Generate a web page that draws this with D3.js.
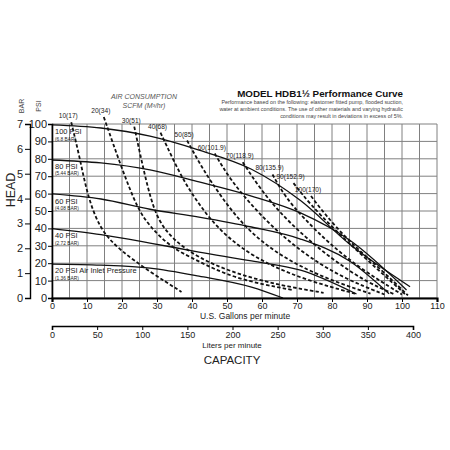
<!DOCTYPE html>
<html><head><meta charset="utf-8">
<script src="https://cdn.jsdelivr.net/npm/d3@7/dist/d3.min.js"></script>
<style>body{margin:0;background:#fff}svg{display:block;font-family:"Liberation Sans",Arial,sans-serif}</style>
</head><body><svg id="c" width="450" height="450"></svg>
<script>
// ---- data ----
const gpmTicks = [0,10,20,30,40,50,60,70,80,90,100,110];
const psiTicks = [0,10,20,30,40,50,60,70,80,90,100];
const barTicks = [0,1,2,3,4,5,6,7];
const lpmTicks = [0,50,100,150,200,250,300,350,400];
const headLabels = ["100 PSI","80 PSI","60 PSI","40 PSI","20 PSI Air Inlet Pressure"];
const headBarLabels = ["(6.8 BAR)","(5.44 BAR)","(4.08 BAR)","(2.72 BAR)","(1.36 BAR)"];
const headPsi = [100,80,60,40,20];
const head100 = [[0,99.5],[14,97.7],[28,93],[42,85],[57,74],[71,56],[85,31],[102.3,6.5]];
const head80  = [[0,79.3],[14,77.6],[28,73.6],[42,66.7],[57,58.6],[71,48.9],[85,33.3],[101.3,4.6]];
const head60  = [[0,59.8],[14,56.9],[28,51],[42,46.5],[57,40.8],[71,33.9],[85,21.3],[96.3,2.5]];
const head40  = [[0,39.9],[14,36.4],[28,31.6],[42,26.4],[57,21.3],[71,16],[87,2.3]];
const head20  = [[0,19.5],[14,18.9],[28,17.2],[42,12.6],[57,6.3],[66,0]];
const airLabels = ["10(17)","20(34)","30(51)","40(68)","50(85)","60(101.9)","70(118.9)","80(135.9)","90(152.9)","100(170)"];
const air10  = [[5.5,101],[8,80],[10,60],[13.5,40],[19,28],[28,15],[37,3.5]];
const air20  = [[14.8,104],[20,74],[24.5,51],[28,41],[34,29],[41,22],[52,11],[69,4.5]];
const air30  = [[23.5,98.5],[25.7,77.6],[28.9,50.6],[32.5,38],[38,28],[46,19],[56,12],[66,7],[77.6,3]];
const air40  = [[31,95],[34.5,80],[38,66],[42.3,53],[47,41],[53.7,29],[62,19],[73,10],[86.6,2.5]];
const air50  = [[38.6,90.5],[42,78],[45.1,67.8],[50.9,51],[56.6,38],[64,26],[73,16],[82,8.5],[91,2.5]];
const air60  = [[46.5,83],[50.9,68],[58,51],[65,37],[73.7,23],[83.7,11],[95,2]];
const air70  = [[54.5,78],[59.4,63],[65.1,49],[72.3,35],[80.9,21],[90,9],[98,2]];
const air80  = [[63,71],[66.6,58],[72.3,45],[79.4,31],[88,17],[100,2]];
const air90  = [[69,66],[73.7,54],[80.9,39],[89.4,23],[101,2]];
const air100 = [[74,58.6],[78,48],[85.1,32],[93.7,17],[101.7,1.5]];

const heads = [head100,head80,head60,head40,head20];
const airs = [air10,air20,air30,air40,air50,air60,air70,air80,air90,air100];

// ---- scales ----
const svg = d3.select("#c");
const x = d3.scaleLinear().domain([0,110]).range([52,437]);
const y = d3.scaleLinear().domain([0,100]).range([298,124]);
const yBar = d3.scaleLinear().domain([0,7]).range([298,124]);
const xL = d3.scaleLinear().domain([0,400]).range([52,413]);

// grid
const g = svg.append("g");
g.selectAll("line.v").data(d3.range(0,111,5)).enter().append("line")
  .attr("x1",d=>x(d)).attr("x2",d=>x(d)).attr("y1",y(0)).attr("y2",y(100))
  .attr("stroke","#808080").attr("stroke-width",1);
g.selectAll("line.h").data(psiTicks).enter().append("line")
  .attr("x1",x(0)).attr("x2",x(110)).attr("y1",d=>y(d)).attr("y2",d=>y(d))
  .attr("stroke","#808080").attr("stroke-width",1);

// head curves
const line = d3.line().x(d=>x(d[0])).y(d=>y(d[1])).curve(d3.curveMonotoneX);
svg.selectAll("path.head").data(heads).enter().append("path")
  .attr("d",line).attr("fill","none").attr("stroke","#111").attr("stroke-width",1.3);

// air curves
const lineA = d3.line().x(d=>x(d[0])).y(d=>y(d[1])).curve(d3.curveBasis);
svg.selectAll("path.air").data(airs).enter().append("path")
  .attr("d",lineA).attr("fill","none").attr("stroke","#111").attr("stroke-width",1.8)
  .attr("stroke-dasharray","3.5,2.2");

// air labels
svg.selectAll("text.al").data(airs).enter().append("text")
  .attr("x",d=>x(d[0][0])-3).attr("y",d=>y(d[0][1])-4)
  .attr("text-anchor","middle").attr("font-size",6.6).attr("fill","#222")
  .text((d,i)=>airLabels[i]);

// head labels
svg.selectAll("text.hl").data(headLabels).enter().append("text")
  .attr("x",x(0)+3).attr("y",(d,i)=>y(headPsi[i])+10).attr("font-size",7.5).attr("fill","#222")
  .text(d=>d);
svg.selectAll("text.hb").data(headBarLabels).enter().append("text")
  .attr("x",x(0)+3).attr("y",(d,i)=>y(headPsi[i])+16.5).attr("font-size",4.8).attr("fill","#222")
  .text(d=>d);

// axes
const ax = svg.append("g").attr("transform",`translate(0,${y(0)})`)
  .call(d3.axisBottom(x).tickValues(gpmTicks).tickSize(4).tickPadding(1));
ax.select(".domain").attr("stroke-width",2.2);
ax.selectAll("text").attr("font-size",9).attr("font-family","Liberation Sans, Arial").attr("fill","#222");

const ay = svg.append("g").attr("transform",`translate(${x(0)},0)`)
  .call(d3.axisLeft(y).tickValues(psiTicks).tickSize(4).tickPadding(1));
ay.select(".domain").attr("stroke-width",1.6);
ay.selectAll("text").attr("font-size",11).attr("font-family","Liberation Sans, Arial").attr("fill","#222");

const ab = svg.append("g").attr("transform","translate(30,0)")
  .call(d3.axisLeft(yBar).tickValues(barTicks).tickFormat(d3.format("d")).tickSize(5).tickPadding(2));
ab.select(".domain").attr("stroke-width",1.4);
ab.selectAll("text").attr("font-size",11).attr("font-family","Liberation Sans, Arial").attr("fill","#222");

const al = svg.append("g").attr("transform","translate(0,326)")
  .call(d3.axisBottom(xL).tickValues(lpmTicks).tickSize(4).tickPadding(2).tickSizeOuter(4));
al.select(".domain").attr("stroke-width",1.6);
al.selectAll("text").attr("font-size",9).attr("font-family","Liberation Sans, Arial").attr("fill","#222");

// titles
svg.append("text").attr("x",245).attr("y",319).attr("text-anchor","middle").attr("font-size",8.5).attr("fill","#222").text("U.S. Gallons per minute");
svg.append("text").attr("x",232).attr("y",348).attr("text-anchor","middle").attr("font-size",8).attr("fill","#222").text("Liters per minute");
svg.append("text").attr("x",232).attr("y",364).attr("text-anchor","middle").attr("font-size",11.5).attr("fill","#222").text("CAPACITY");
svg.append("text").attr("transform","translate(15,190) rotate(-90)").attr("text-anchor","middle").attr("font-size",12.5).attr("fill","#222").text("HEAD");
svg.append("text").attr("transform","translate(24,106) rotate(-90)").attr("text-anchor","middle").attr("font-size",7).attr("fill","#444").text("BAR");
svg.append("text").attr("transform","translate(41,106) rotate(-90)").attr("text-anchor","middle").attr("font-size",7).attr("fill","#444").text("PSI");
svg.append("text").attr("x",144).attr("y",99).attr("text-anchor","middle").attr("font-size",7).attr("font-style","italic").attr("fill","#555").text("AIR CONSUMPTION");
svg.append("text").attr("x",144).attr("y",108).attr("text-anchor","middle").attr("font-size",7).attr("font-style","italic").attr("fill","#555").text("SCFM (M³/hr)");
svg.append("text").attr("x",403).attr("y",97).attr("text-anchor","end").attr("font-size",9.8).attr("font-weight","bold").attr("fill","#111").text("MODEL HDB1½ Performance Curve");
const sub = ["Performance based on the following: elastomer fitted pump, flooded suction,","water at ambient conditions. The use of other materials and varying hydraulic","conditions may result in deviations in excess of 5%."];
svg.selectAll("text.sub").data(sub).enter().append("text").attr("x",403).attr("y",(d,i)=>104+i*6.8)
  .attr("text-anchor","end").attr("font-size",5.4).attr("fill","#444").text(d=>d);
</script></body></html>
